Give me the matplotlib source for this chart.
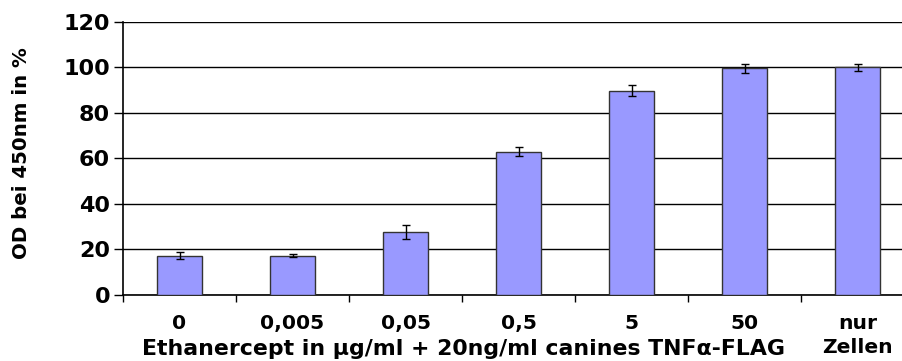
import matplotlib
matplotlib.use("Agg")
import matplotlib.pyplot as plt
import numpy as np

# Messwerte: OD bei 450nm relativ zur Kontrolle (nur Zellen)
konzentrationen = ["0", "0,005", "0,05", "0,5", "5", "50", "nur\nZellen"]
od_prozent = [17.2, 17.2, 27.7, 62.9, 89.8, 99.6, 100.0]
fehler = [1.6, 0.7, 3.0, 1.9, 2.3, 1.9, 1.5]
y_ticks = [0, 20, 40, 60, 80, 100, 120]

plt.rcParams["font.family"] = ["DejaVu Sans"]
plt.rcParams["font.weight"] = "bold"

fig = plt.figure(figsize=(9.02, 3.61), dpi=100)
ax = fig.add_axes([123 / 902, 1 - 294.7 / 361, 779 / 902, 272.7 / 361])

x = np.arange(len(konzentrationen))
ax.bar(x, od_prozent, width=0.4, color="#9999FF", edgecolor="#333333",
       linewidth=1.0, zorder=3)
ax.errorbar(x, od_prozent, yerr=fehler, fmt="none", ecolor="black",
            elinewidth=1.0, capsize=2.9, capthick=1.0, zorder=4)

ax.set_xlim(-0.5, -0.5 + 779 / 113)
ax.set_ylim(0, 120)
ax.set_yticks(y_ticks)
ax.set_yticklabels([str(v) for v in y_ticks], fontsize=16, fontweight="bold")
ax.yaxis.grid(True, color="black", linewidth=1.0, zorder=0)
ax.set_axisbelow(True)

ax.set_xticks(x)
ax.set_xticklabels(konzentrationen, fontsize=14.6, fontweight="bold",
                   linespacing=1.3, va="top")
ax.set_xticks(np.arange(len(konzentrationen)) - 0.5, minor=True)
ax.tick_params(axis="x", which="major", length=0, pad=14)
ax.tick_params(axis="x", which="minor", length=5, width=1.0, color="black",
               direction="out")
ax.tick_params(axis="y", length=6.3, width=1.0, color="black", pad=3)

for side in ["top", "right"]:
    ax.spines[side].set_visible(False)
for side in ["left", "bottom"]:
    ax.spines[side].set_color("black")
    ax.spines[side].set_linewidth(1.2)

fig.text(464 / 902, 1 - 349 / 361, "Ethanercept in µg/ml + 20ng/ml canines TNFα-FLAG",
         ha="center", va="center", fontsize=15.8, fontweight="bold")
fig.text(22 / 902, 1 - 153.5 / 361, "OD bei 450nm in %", rotation=90,
         ha="center", va="center", fontsize=14.2, fontweight="bold")

fig.savefig("out.png", dpi=100)
